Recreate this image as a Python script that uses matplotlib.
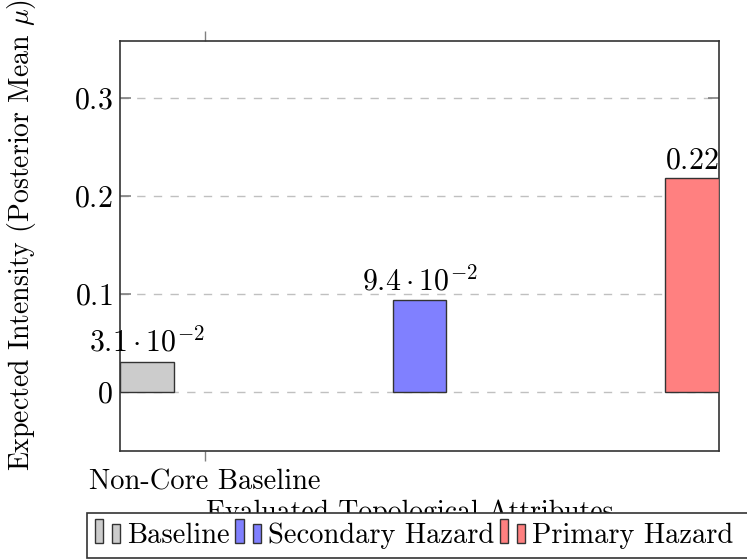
import math
import matplotlib
matplotlib.use("Agg")
import matplotlib.pyplot as plt
from matplotlib.patches import Rectangle
from matplotlib.legend_handler import HandlerBase

plt.rcParams['font.family'] = ['cmr10', 'DejaVu Serif']
plt.rcParams['mathtext.fontset'] = 'cm'
plt.rcParams['axes.formatter.use_mathtext'] = True

series = ["Baseline", "Secondary Hazard", "Primary Hazard"]
values = [0.031, 0.094, 0.218]
positions = [0, 1, 2]
colors = ["#cccccc", "#8080ff", "#ff8080"]
xtick_positions = [0.213]
xtick_labels = ["Non-Core Baseline"]
yticks = [0, 0.1, 0.2, 0.3]
ytick_labels = ["0", "0.1", "0.2", "0.3"]

FS = 20.5
NFS = 21.5


def fmt(v):
    if abs(v) < 0.1 and v != 0:
        e = int(math.floor(math.log10(abs(v))))
        m = v / 10 ** e
        return r"$%.1f \cdot 10^{%d}$" % (m, e)
    return r"$%.2f$" % v


fig = plt.figure(figsize=(7.47, 5.60), dpi=100)
ax = fig.add_axes([120/747, 1-451/560, 599/747, 410/560])

width = 0.198
bars = []
for p, v, c, s in zip(positions, values, colors, series):
    b = ax.bar(p, v, width=width, color=c, edgecolor="#333333", linewidth=1.0, label=s, zorder=3)
    bars.append(b)
    ax.annotate(fmt(v), (p, v), xytext=(0, 3), textcoords="offset points",
                ha="center", va="bottom", fontsize=NFS, zorder=4, annotation_clip=False)

ax.set_xlim(-0.099, 2.099)
ax.set_ylim(-0.060, 0.358)
ax.set_yticks(yticks)
ax.set_yticklabels([r"$%s$" % t for t in ytick_labels], fontsize=NFS)
ax.set_xticks(xtick_positions)
ax.set_xticklabels(xtick_labels, fontsize=FS)
ax.tick_params(axis="y", direction="in", left=True, right=True, length=8, color="#808080", width=1.2, pad=5)
ax.tick_params(axis="x", direction="out", top=True, bottom=True, length=7, color="#808080", width=1.0, pad=6)
ax.yaxis.grid(True, linestyle=(0, (6, 6)), color="#c0c0c0", linewidth=1.0, zorder=0)
ax.set_axisbelow(True)
for sp in ax.spines.values():
    sp.set_color("#333333")
    sp.set_linewidth(1.2)

fig.text(410/747, 1-520/560, "Evaluated Topological Attributes", ha="center", va="baseline", fontsize=20)
fig.text(22/747, 1-235/560, r"Expected Intensity (Posterior Mean $\mu$)", ha="center", va="center",
         rotation=90, fontsize=20)

# legend frame (extends past the right edge like the reference)
frame = Rectangle((87/747, 2/560), 700/747, 45/560, transform=fig.transFigure,
                  facecolor="white", edgecolor="#333333", linewidth=1.2, zorder=4)
fig.patches.append(frame)


class TwoBarHandler(HandlerBase):
    def create_artists(self, legend, orig_handle, xdescent, ydescent, width, height, fontsize, trans):
        fc = orig_handle.get_facecolor()
        w = width * 0.32
        r1 = Rectangle((-xdescent, -ydescent), w, height * 1.2, facecolor=fc,
                       edgecolor="#333333", linewidth=1.0, transform=trans)
        r2 = Rectangle((-xdescent + width - w, -ydescent), w, height * 0.95, facecolor=fc,
                       edgecolor="#333333", linewidth=1.0, transform=trans)
        return [r1, r2]


handles = [b.patches[0] for b in bars]
leg = fig.legend(handles, series, loc="center left", bbox_to_anchor=(95/747, 1-536/560),
                 ncol=3, fontsize=FS, frameon=False,
                 handler_map={Rectangle: TwoBarHandler()},
                 handlelength=0.88, handleheight=0.7, handletextpad=0.25, columnspacing=0.2,
                 borderpad=0, borderaxespad=0)
leg.set_zorder(5)

fig.savefig("out.png", dpi=100)
